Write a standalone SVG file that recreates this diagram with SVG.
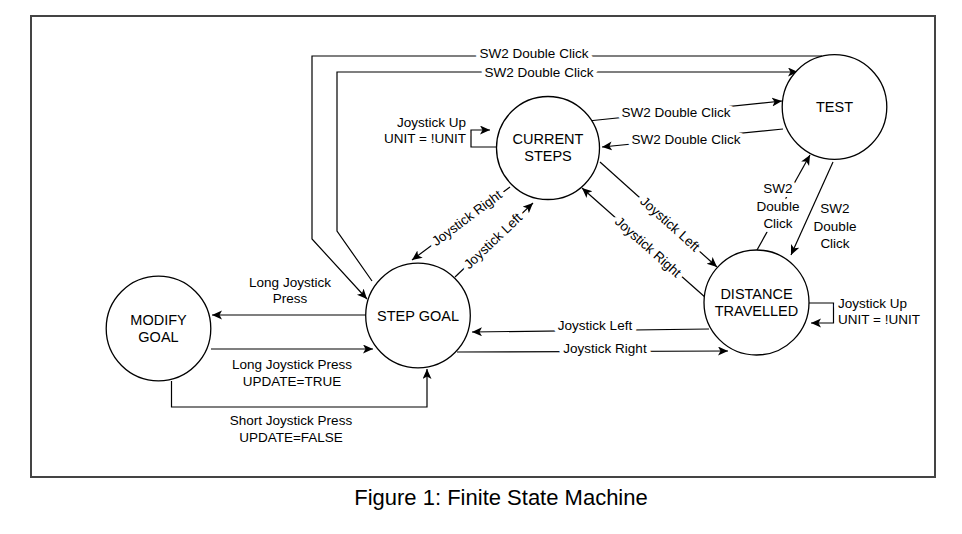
<svg xmlns="http://www.w3.org/2000/svg" width="962" height="534" viewBox="0 0 962 534">
<style>
.node circle{fill:#fff;stroke:#000;stroke-width:1.3}
.nt{font-family:"Liberation Sans",Arial,sans-serif;font-size:14.5px;text-anchor:middle;fill:#000}
.edge{fill:none;stroke:#000;stroke-width:1.2}
.arr{marker-end:url(#ah)}
.lbl{font-family:"Liberation Sans",Arial,sans-serif;font-size:13.5px;text-anchor:middle;fill:#000;stroke:#fff;stroke-width:8;paint-order:stroke;stroke-linejoin:round}
.ls{text-anchor:start}
.le{text-anchor:end}
.cap{font-family:"Liberation Sans",Arial,sans-serif;font-size:22px;text-anchor:middle;fill:#000}
</style>
<defs>
<marker id="ah" markerUnits="userSpaceOnUse" markerWidth="12" markerHeight="10" refX="10" refY="4.5" orient="auto">
<path d="M0,0 L10,4.5 L0,9 L2.5,4.5 Z" fill="#000"/>
</marker>
</defs>
<rect width="962" height="534" fill="#fff"/>
<rect x="31" y="16" width="904" height="461" fill="none" stroke="#444" stroke-width="2"/>

<g id="connectors">
<!-- SG -> MODIFY -->
<path class="edge arr" d="M366,315 H212"/>
<text class="lbl" x="290" y="287">Long Joystick</text>
<text class="lbl" x="290" y="303">Press</text>
<!-- MODIFY -> SG -->
<path class="edge arr" d="M211,349 H373"/>
<text class="lbl" x="292" y="369">Long Joystick Press</text>
<text class="lbl" x="292" y="386">UPDATE=TRUE</text>
<!-- MODIFY -> SG short -->
<path class="edge arr" d="M171.5,381 V407 H427 V369"/>
<text class="lbl" x="291" y="425">Short Joystick Press</text>
<text class="lbl" x="291" y="442">UPDATE=FALSE</text>
<!-- DT -> SG -->
<path class="edge arr" d="M709,329 L472,332"/>
<text class="lbl" x="595" y="330">Joystick Left</text>
<!-- SG -> DT -->
<path class="edge arr" d="M457,352 L728,351"/>
<text class="lbl" x="605" y="353">Joystick Right</text>
<!-- CS -> SG -->
<path class="edge arr" d="M510,187 L412,260"/>
<text class="lbl" transform="translate(467,218) rotate(-36.7)" x="0" y="4.5">Joystick Right</text>
<!-- SG -> CS -->
<path class="edge arr" d="M455,277 L533,203"/>
<text class="lbl" transform="translate(493,241) rotate(-43.5)" x="0" y="4.5">Joystick Left</text>
<!-- CS -> DT -->
<path class="edge arr" d="M600,162 L717,267"/>
<text class="lbl" transform="translate(670,224) rotate(41.9)" x="0" y="4.5">Joystick Left</text>
<!-- DT -> CS -->
<path class="edge arr" d="M706,298 L582,188"/>
<text class="lbl" transform="translate(648,247) rotate(41.7)" x="0" y="4.5">Joystick Right</text>
<!-- CS -> TEST -->
<path class="edge arr" d="M588,121 L782,101"/>
<text class="lbl" x="676" y="117">SW2 Double Click</text>
<!-- TEST -> CS -->
<path class="edge arr" d="M783,129 L602,147"/>
<text class="lbl" x="686" y="144">SW2 Double Click</text>
<!-- DT -> TEST -->
<path class="edge arr" d="M757,250 L810,155"/>
<text class="lbl" x="778" y="193">SW2</text>
<text class="lbl" x="778" y="211">Double</text>
<text class="lbl" x="778" y="228">Click</text>
<!-- TEST -> DT -->
<path class="edge arr" d="M833,162 L791,255"/>
<text class="lbl" x="835" y="213">SW2</text>
<text class="lbl" x="835" y="231">Double</text>
<text class="lbl" x="835" y="248">Click</text>
<!-- DT self -->
<path class="edge arr" d="M809,303 H833.5 V323 H811"/>
<text class="lbl ls" x="838" y="308">Joystick Up</text>
<text class="lbl ls" x="838" y="324">UNIT = !UNIT</text>
<!-- CS self -->
<path class="edge arr" d="M497,147 H471 V130 H490"/>
<text class="lbl le" x="466" y="127">Joystick Up</text>
<text class="lbl le" x="466" y="143">UNIT = !UNIT</text>
<!-- TEST -> SG outer -->
<path class="edge arr" d="M822,56 H312 V239 L367,299"/>
<text class="lbl" x="534" y="58">SW2 Double Click</text>
<!-- SG -> TEST inner -->
<path class="edge arr" d="M372,281 L337,231 V72 H798"/>
<text class="lbl" x="539" y="77">SW2 Double Click</text>
</g>

<g id="modify-goal" class="node">
<circle cx="158.5" cy="328.5" r="52.3"/>
<text class="nt" x="158.5" y="325">MODIFY</text>
<text class="nt" x="158.5" y="342">GOAL</text>
</g>
<g id="step-goal" class="node">
<circle cx="418" cy="315.5" r="52.3"/>
<text class="nt" x="418" y="321">STEP GOAL</text>
</g>
<g id="current-steps" class="node">
<circle cx="548" cy="148" r="51.5"/>
<text class="nt" x="548" y="144">CURRENT</text>
<text class="nt" x="548" y="161">STEPS</text>
</g>
<g id="test" class="node">
<circle cx="834.5" cy="107" r="52.3"/>
<text class="nt" x="834.5" y="112">TEST</text>
</g>
<g id="distance-travelled" class="node">
<circle cx="756.5" cy="302.5" r="52.5"/>
<text class="nt" x="756.5" y="299">DISTANCE</text>
<text class="nt" x="756.5" y="316">TRAVELLED</text>
</g>

<text class="cap" x="501" y="505">Figure 1: Finite State Machine</text>
</svg>
